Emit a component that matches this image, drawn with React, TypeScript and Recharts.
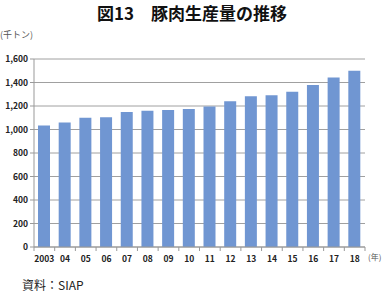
import { BarChart, Bar, XAxis, YAxis, CartesianGrid } from "recharts";

const years = ["2003", "04", "05", "06", "07", "08", "09", "10", "11", "12", "13", "14", "15", "16", "17", "18"];
const production = [1035, 1060, 1100, 1105, 1150, 1160, 1165, 1175, 1195, 1240, 1283, 1292, 1322, 1378, 1443, 1500];
const yTicks = [0, 200, 400, 600, 800, 1000, 1200, 1400, 1600];

const data = years.map((year, i) => ({ year, value: production[i] }));

const W = 384;
const H = 275;
const LEFT = 34;
const RIGHT = 19;
const BAND = (W - LEFT - RIGHT) / years.length;

const font = "'Noto Sans CJK JP', 'Noto Sans', sans-serif";

function YearTick(props: any) {
  const { x, y, payload } = props;
  const last = payload.index === years.length - 1;
  return (
    <g>
      <line x1={x - BAND / 2} x2={x - BAND / 2} y1={y - 8} y2={y - 4} stroke="#999" />
      {last && <line x1={x + BAND / 2} x2={x + BAND / 2} y1={y - 8} y2={y - 4} stroke="#999" />}
      <text x={x} y={y + 7} textAnchor="middle" fontSize={8.5} fontWeight="bold" fill="#222" fontFamily={font}>
        {payload.value}
      </text>
    </g>
  );
}

export default function App() {
  return (
    <div style={{ position: "absolute", left: 0, top: 0, width: W, height: 293, background: "#fff", fontFamily: font }}>
      <div style={{ position: "absolute", top: 0, width: W, textAlign: "center", fontSize: 17, fontWeight: "bold", color: "#111" }}>
        図13　豚肉生産量の推移
      </div>
      <div style={{ position: "absolute", left: 0, top: 28, fontSize: 9, color: "#555", whiteSpace: "nowrap" }}>(千トン)</div>
      <BarChart width={W} height={H} data={data} margin={{ top: 59, right: RIGHT, bottom: 0, left: 0 }}>
        <CartesianGrid vertical={false} stroke="#a0a0a0" />
        <XAxis dataKey="year" axisLine={{ stroke: "#999" }} tickLine={false} tick={<YearTick />} height={28} interval={0} />
        <YAxis
          width={LEFT}
          domain={[0, 1600]}
          ticks={yTicks}
          tickFormatter={(v: number) => v.toLocaleString("en-US")}
          axisLine={{ stroke: "#999" }}
          tickLine={{ stroke: "#999" }}
          tickSize={4}
          tick={{ fontSize: 8.5, fontWeight: "bold", fill: "#222", fontFamily: font }}
        />
        <Bar dataKey="value" fill="#7096d2" barSize={12} isAnimationActive={false} />
      </BarChart>
      <div style={{ position: "absolute", left: 368, top: 251, fontSize: 8, color: "#555", whiteSpace: "nowrap" }}>(年)</div>
      <div style={{ position: "absolute", left: 22, top: 276, fontSize: 12, color: "#222" }}>資料：SIAP</div>
    </div>
  );
}
